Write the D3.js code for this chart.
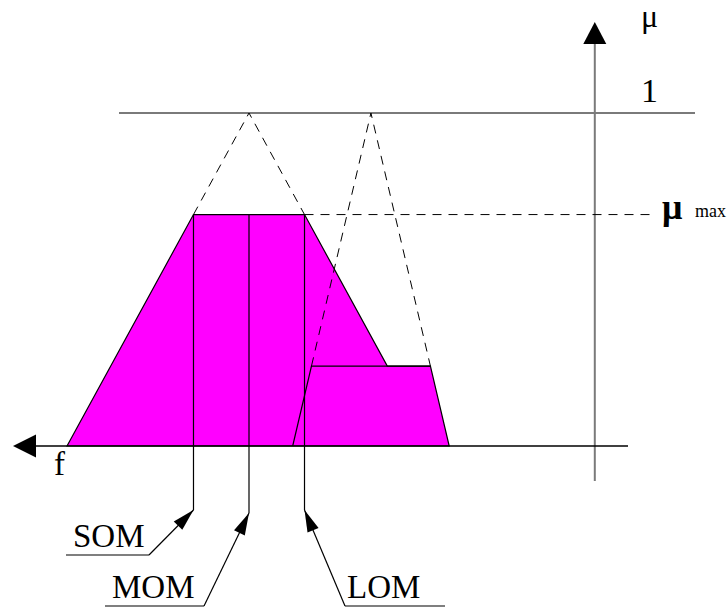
<!DOCTYPE html>
<html>
<head>
<meta charset="utf-8">
<script src="https://cdn.jsdelivr.net/npm/d3@7"></script>
</head>
<body style="margin:0">
<script>
// ---- data ----
const tri1 = [0, 10, 20];          // first fuzzy set: left foot, peak, right foot (f units)
const tri2 = [12.4, 16.7, 21.0];   // second fuzzy set
const clipLevels = [0.695, 0.24];  // activation (clip) level of each set
const defuzzLabels = ["SOM", "MOM", "LOM"];
const axisLabels = { mu: "μ", one: "1", f: "f", muMax: "μ", maxSub: "max" };
const muAxisAt = 29;               // f position of the μ axis

// ---- setup ----
const W = 727, H = 608;
const svg = d3.select("body").append("svg").attr("width", W).attr("height", H)
  .style("display", "block").style("font-family", '"Liberation Serif"');
const x = d3.scaleLinear().domain([0, 20]).range([67, 431]);
const y = d3.scaleLinear().domain([0, 1]).range([446, 113]);

const Lf = (t, m) => t[0] + (t[1] - t[0]) * m;
const Rf = (t, m) => t[2] - (t[2] - t[1]) * m;
const mu1 = clipLevels[0], mu2 = clipLevels[1];
const SOM = Lf(tri1, mu1), LOM = Rf(tri1, mu1), MOM = (SOM + LOM) / 2;
const defuzz = [SOM, MOM, LOM];
const line = d3.line().x(d => x(d[0])).y(d => y(d[1]));

function addText(tx, ty, size, str, bold) {
  const t = svg.append("text").attr("x", tx).attr("y", ty).attr("font-size", size)
    .style("font-family", '"Liberation Serif"').text(str);
  if (bold) t.style("font-weight", "bold");
  return t;
}

// μ = 1 reference line
svg.append("line").attr("x1", 119).attr("x2", 695)
  .attr("y1", y(1)).attr("y2", y(1))
  .attr("stroke", "#7a7a7a").attr("stroke-width", 2);

// vertical μ axis
const ax = x(muAxisAt);
svg.append("line").attr("x1", ax).attr("x2", ax).attr("y1", 481).attr("y2", 42)
  .attr("stroke", "#7a7a7a").attr("stroke-width", 2);
svg.append("path").attr("d", `M${ax},22 L${ax - 11.5},44 L${ax + 11.5},44 Z`).attr("fill", "#000");

// union (aggregated output) polygon
const union = [
  [tri1[0], 0], [SOM, mu1], [LOM, mu1],
  [Rf(tri1, mu2), mu2], [Rf(tri2, mu2), mu2], [tri2[2], 0]
];
svg.append("path").attr("d", line(union) + "Z")
  .attr("fill", "#ff00ff").attr("stroke", "#000").attr("stroke-width", 1.2);

// trapezoid 2 top and solid left edge
svg.append("path").attr("d", line([[tri2[0], 0], [Lf(tri2, mu2), mu2], [Rf(tri2, mu2), mu2]]))
  .attr("fill", "none").attr("stroke", "#000").attr("stroke-width", 1.2);

// dashed triangle continuations
const dash = "9,7";
svg.append("path").attr("d", line([[SOM, mu1], [tri1[1], 1], [LOM, mu1]]))
  .attr("fill", "none").attr("stroke", "#000").attr("stroke-width", 1).attr("stroke-dasharray", dash);
svg.append("path").attr("d", line([[Lf(tri2, mu2), mu2], [tri2[1], 1], [Rf(tri2, mu2), mu2]]))
  .attr("fill", "none").attr("stroke", "#000").attr("stroke-width", 1).attr("stroke-dasharray", dash);

// μmax dashed line
svg.append("line").attr("x1", x(LOM)).attr("x2", 656).attr("y1", y(mu1)).attr("y2", y(mu1))
  .attr("stroke", "#000").attr("stroke-width", 1).attr("stroke-dasharray", dash);

// f axis (base)
svg.append("line").attr("x1", 30).attr("x2", 628).attr("y1", y(0)).attr("y2", y(0))
  .attr("stroke", "#000").attr("stroke-width", 1.6);
svg.append("path").attr("d", `M13,${y(0)} L36,${y(0) - 11.5} L36,${y(0) + 11.5} Z`).attr("fill", "#000");

// defuzzified value verticals
const vEnd = [510, 513, 510];
defuzz.forEach((d, i) => {
  svg.append("line").attr("x1", x(d)).attr("x2", x(d)).attr("y1", y(mu1)).attr("y2", vEnd[i])
    .attr("stroke", "#000").attr("stroke-width", 1.2);
});

// leader lines with arrows and labels
const leaders = [
  { from: [149, 555], lineTo: 66, textX: 73, textY: 547 },
  { from: [204, 606], lineTo: 105, textX: 112, textY: 598 },
  { from: [345, 606], lineTo: 445, textX: 347, textY: 598 }
];
leaders.forEach((ld, i) => {
  const tip = [x(defuzz[i]), vEnd[i]];
  svg.append("line").attr("x1", ld.lineTo).attr("x2", ld.from[0]).attr("y1", ld.from[1]).attr("y2", ld.from[1])
    .attr("stroke", "#000").attr("stroke-width", 1.2);
  svg.append("line").attr("x1", ld.from[0]).attr("y1", ld.from[1]).attr("x2", tip[0]).attr("y2", tip[1])
    .attr("stroke", "#000").attr("stroke-width", 1.2);
  const dx = ld.from[0] - tip[0], dy = ld.from[1] - tip[1];
  const len = Math.hypot(dx, dy), ux = dx / len, uy = dy / len;
  const aL = 22, aW = 6;
  const bx = tip[0] + ux * aL, by = tip[1] + uy * aL;
  svg.append("path")
    .attr("d", `M${tip[0]},${tip[1]} L${bx - uy * aW},${by + ux * aW} L${bx + uy * aW},${by - ux * aW} Z`)
    .attr("fill", "#000");
  addText(ld.textX, ld.textY, 33, defuzzLabels[i]);
});

// axis labels
addText(641, 27, 32, axisLabels.mu);
addText(641, 102, 34, axisLabels.one);
addText(54, 475, 33, axisLabels.f);
addText(662, 219, 36, axisLabels.muMax, true);
addText(695, 217, 18, axisLabels.maxSub);
</script>
</body>
</html>
